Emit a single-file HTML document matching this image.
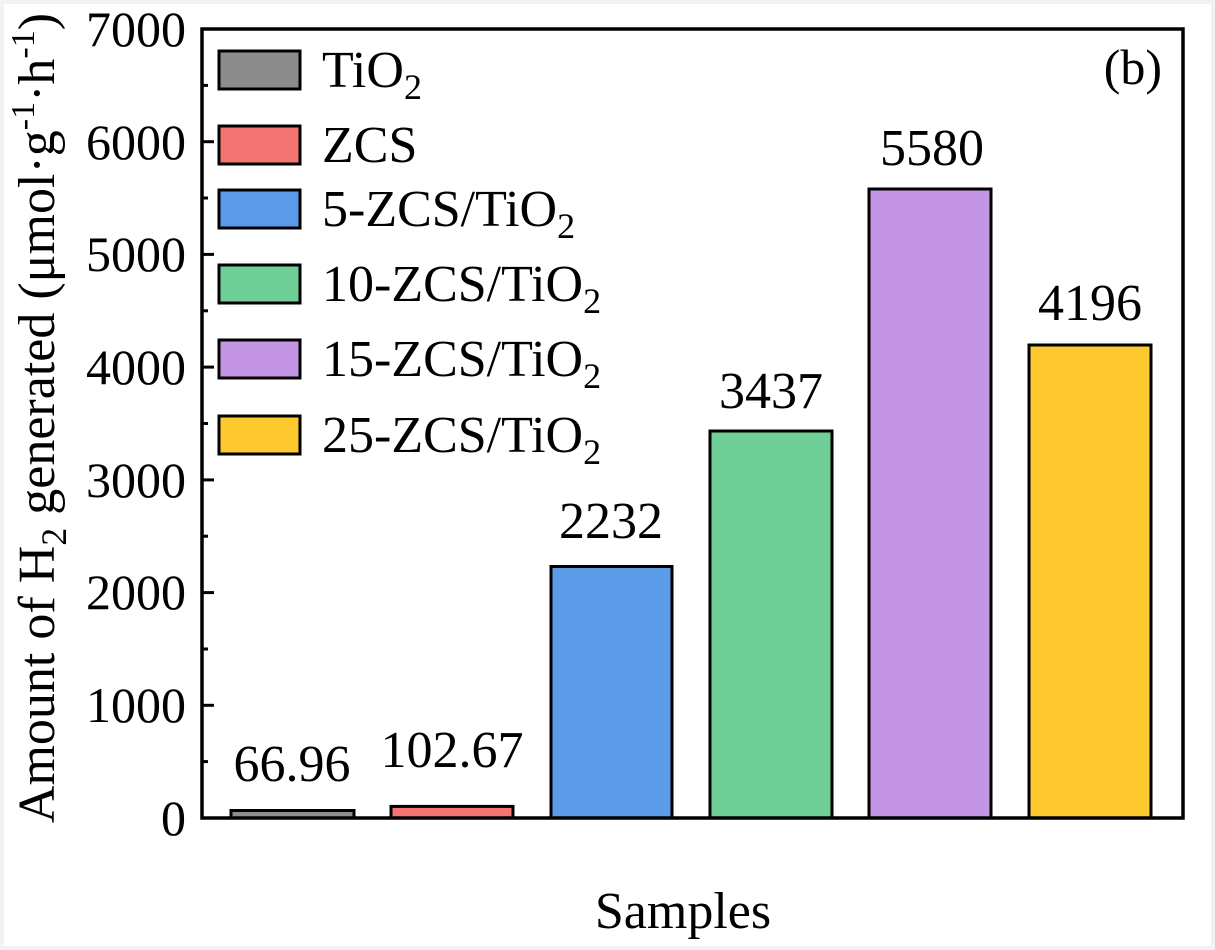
<!DOCTYPE html><html><head><style>body{margin:0;background:#fff}svg{display:block}</style></head><body>
<svg width="1215" height="950" xmlns="http://www.w3.org/2000/svg" font-family="Liberation Serif, serif">
<rect x="0" y="0" width="1215" height="950" fill="#f1f2f4"/>
<rect x="4" y="4" width="1207" height="942" fill="#fff"/>
<g stroke="#000" stroke-width="3">
<rect x="231" y="810.5" width="123" height="7.5" fill="#8c8c8c"/>
<rect x="391" y="806.4" width="122" height="11.6" fill="#f47474"/>
<rect x="551" y="566.5" width="121" height="251.5" fill="#5b9be8"/>
<rect x="710" y="431" width="122" height="387" fill="#6fcf97"/>
<rect x="869" y="189" width="122" height="629" fill="#c495e4"/>
<rect x="1029" y="345" width="122" height="473" fill="#fdc92f"/>
</g>
<rect x="202" y="29" width="981" height="789" fill="none" stroke="#000" stroke-width="3.5"/>
<g stroke="#000" stroke-width="3">
<line x1="202" y1="705.3" x2="214" y2="705.3"/><line x1="202" y1="592.6" x2="214" y2="592.6"/><line x1="202" y1="479.9" x2="214" y2="479.9"/><line x1="202" y1="367.1" x2="214" y2="367.1"/><line x1="202" y1="254.4" x2="214" y2="254.4"/><line x1="202" y1="141.7" x2="214" y2="141.7"/>
<line x1="202" y1="761.6" x2="208" y2="761.6"/><line x1="202" y1="649" x2="208" y2="649"/><line x1="202" y1="536.2" x2="208" y2="536.2"/><line x1="202" y1="423.5" x2="208" y2="423.5"/><line x1="202" y1="310.8" x2="208" y2="310.8"/><line x1="202" y1="198" x2="208" y2="198"/><line x1="202" y1="85.4" x2="208" y2="85.4"/>
</g>
<g font-size="50" text-anchor="end">
<text x="186" y="835">0</text><text x="186" y="722">1000</text><text x="186" y="609">2000</text><text x="186" y="497">3000</text><text x="186" y="384">4000</text><text x="186" y="271">5000</text><text x="186" y="159">6000</text><text x="186" y="46">7000</text>
</g>
<g font-size="52" text-anchor="middle">
<text x="292" y="781">66.96</text><text x="452" y="767">102.67</text><text x="611" y="538">2232</text><text x="771" y="408">3437</text><text x="932" y="165">5580</text><text x="1090" y="320">4196</text>
<text x="683" y="928">Samples</text>
</g>
<text x="1162" y="84" font-size="50" text-anchor="end">(b)</text>
<g stroke="#000" stroke-width="3">
<rect x="219" y="51" width="81" height="38" fill="#8c8c8c"/>
<rect x="219" y="126" width="81" height="38" fill="#f47474"/>
<rect x="219" y="190" width="81" height="38" fill="#5b9be8"/>
<rect x="219" y="265" width="81" height="38" fill="#6fcf97"/>
<rect x="219" y="340" width="81" height="38" fill="#c495e4"/>
<rect x="219" y="416" width="81" height="38" fill="#fdc92f"/>
</g>
<g font-size="52">
<text x="322" y="87">TiO<tspan font-size="36" dy="12">2</tspan></text>
<text x="322" y="162">ZCS</text>
<text x="322" y="226">5-ZCS/TiO<tspan font-size="36" dy="12">2</tspan></text>
<text x="322" y="301">10-ZCS/TiO<tspan font-size="36" dy="12">2</tspan></text>
<text x="322" y="376">15-ZCS/TiO<tspan font-size="36" dy="12">2</tspan></text>
<text x="322" y="452">25-ZCS/TiO<tspan font-size="36" dy="12">2</tspan></text>
</g>
<text transform="translate(54,418) rotate(-90)" font-size="52" text-anchor="middle">Amount of H<tspan font-size="36" dy="12">2</tspan><tspan dy="-12"> generated (μmol·g</tspan><tspan font-size="34" dy="-20">-1</tspan><tspan dy="20">·h</tspan><tspan font-size="34" dy="-20">-1</tspan><tspan dy="20">)</tspan></text>
</svg>
</body></html>
